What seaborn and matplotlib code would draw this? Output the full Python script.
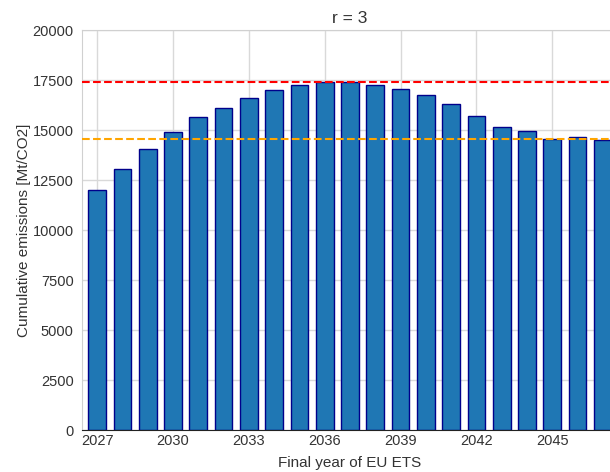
import matplotlib
matplotlib.use('Agg')
import matplotlib.pyplot as plt
import pandas as pd
import seaborn as sns

years = list(range(2027, 2048))
emissions = [12000, 13050, 14030, 14880, 15630, 16120, 16610, 16980, 17270, 17380,
             17380, 17270, 17050, 16730, 16300, 15700, 15150, 14950, 14570, 14670, 14520]
max_line = 17400
final_line = 14530
yticks = [0, 2500, 5000, 7500, 10000, 12500, 15000, 17500, 20000]

df = pd.DataFrame({'year': [str(y) for y in years], 'emissions': emissions})

sns.set_style('whitegrid')
plt.rcParams['font.family'] = ['Liberation Sans', 'DejaVu Sans']

fig = plt.figure(figsize=(6.1, 4.72), dpi=100)
ax = fig.add_axes([82/610, 42/472, 536/610, 400/472])

g = sns.barplot(x='year', y='emissions', data=df, color='#1f77b4', saturation=1,
                edgecolor='darkblue', linewidth=1, width=0.7, ax=ax, zorder=2)
ax.axhline(max_line, color='red', linestyle='--', linewidth=1.5, zorder=3)
ax.axhline(final_line, color='orange', linestyle='--', linewidth=1.5, zorder=3)

ax.set_xticks(range(0, len(years), 3))
ax.set_xticklabels([str(y) for y in years[::3]])
ax.set_xlim(-0.6, 20.6)
ax.set_ylim(0, 20000)
ax.set_yticks(yticks)
ax.set_yticklabels([str(t) for t in yticks])
ax.tick_params(labelsize=10.5, colors='#333333', length=0)
ax.tick_params(axis='x', pad=3)
ax.tick_params(axis='y', pad=6)
ax.grid(True, color='#d9d9d9', linewidth=1, zorder=0)
ax.set_axisbelow(True)
for s in ['left', 'top', 'right']:
    ax.spines[s].set_color('#d0d0d0')
ax.spines['bottom'].set_color('#222222')
ax.spines['right'].set_visible(False)

ax.set_xlabel('Final year of EU ETS', fontsize=11, color='#333333', labelpad=6)
ax.set_ylabel('Cumulative emissions [Mt/CO2]', fontsize=11, color='#333333', labelpad=1)
ax.set_title('r = 3', fontsize=12.5, color='#333333', pad=5)

fig.savefig('out.png', dpi=100)
